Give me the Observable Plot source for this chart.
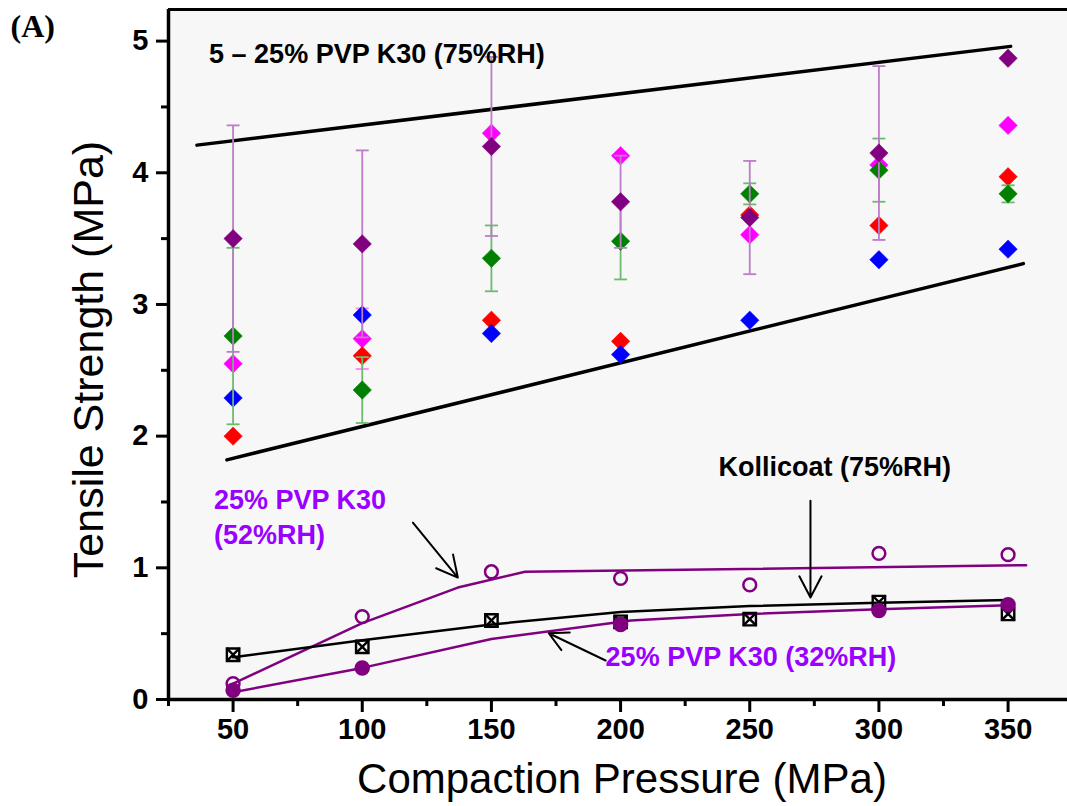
<!DOCTYPE html>
<html>
<head>
<meta charset="utf-8">
<script src="https://cdn.jsdelivr.net/npm/d3@7"></script>
<script src="https://cdn.jsdelivr.net/npm/@observablehq/plot@0.6"></script>
<style>
  body { margin: 0; background: #fff; }
  #chart svg { display: block; }
</style>
</head>
<body>
<div id="chart"></div>
<script>
// Compaction pressures (MPa)
const pressures = [50, 100, 150, 200, 250, 300, 350];

// Tensile strength of the PVP K30 blends at 75%RH (diamonds), one array per colour
const magentaTS = [2.55, 2.74, 4.30, 4.13, 3.53, 4.06, 4.36];
const magentaSD = [0, 0.23, 0, 0, 0, 0, 0];
const redTS     = [2.00, 2.61, 2.88, 2.72, 3.68, 3.60, 3.97];
const redSD     = [0, 0, 0, 0, 0, 0, 0];
const blueTS    = [2.29, 2.92, 2.78, 2.62, 2.88, 3.34, 3.42];
const blueSD    = [0, 0, 0, 0, 0, 0, 0];
const greenTS   = [2.76, 2.35, 3.35, 3.48, 3.84, 4.02, 3.84];
const greenSD   = [0.67, 0.25, 0.25, 0.29, 0.08, 0.24, 0.065];
const purpleTS  = [3.50, 3.46, 4.20, 3.78, 3.66, 4.15, 4.87];
const purpleSD  = [0.86, 0.71, 0.68, 0.35, 0.43, 0.66, 0];

// Envelope lines around the 75%RH data
const upperBoundP = [36, 351];
const upperBoundTS = [4.21, 4.96];
const lowerBoundP = [47.6, 355.9];
const lowerBoundTS = [1.82, 3.31];

// 25% PVP K30 at 52%RH (open circles) and its fitted curve
const rh52TS = [0.12, 0.63, 0.97, 0.92, 0.87, 1.11, 1.10];
const fit52P = [50, 100, 137, 163, 357];
const fit52TS = [0.12, 0.58, 0.85, 0.97, 1.02];

// 25% PVP K30 at 32%RH (filled circles) and its fitted curve
const rh32P = [50, 100, 200, 300, 350];
const rh32TS = [0.07, 0.24, 0.57, 0.675, 0.72];
const fit32P = [50, 100, 150, 204, 250, 300, 350];
const fit32TS = [0.055, 0.24, 0.46, 0.60, 0.65, 0.685, 0.715];

// Kollicoat at 75%RH (crossed squares) and its fitted curve
const kolliTS = [0.34, 0.40, 0.60, 0.59, 0.61, 0.74, 0.65];
const fitKolliP = [50, 100, 150, 200, 250, 300, 350];
const fitKolliTS = [0.32, 0.45, 0.57, 0.665, 0.71, 0.735, 0.755];

// Axis ticks
const xMajor = [50, 100, 150, 200, 250, 300, 350];
const xMinor = [25, 75, 125, 175, 225, 275, 325];
const yMajor = [0, 1, 2, 3, 4, 5];
const yMinor = [0.5, 1.5, 2.5, 3.5, 4.5];

// In-plot labels and pointer arrows (data coordinates)
const labelTexts = ["5 \u2013 25% PVP K30 (75%RH)", "Kollicoat (75%RH)", "25% PVP K30", "(52%RH)", "25% PVP K30 (32%RH)"];
const labelP  = [40.7, 237.9, 42.6, 42.6, 194.2];
const labelTS = [4.90, 1.76, 1.51, 1.245, 0.319];
const labelColors = ["black", "black", "#9900ff", "#9900ff", "#9900ff"];

const arrowFromP  = [119.6, 273.5, 194.2];
const arrowFromTS = [1.343, 1.51, 0.296];
const arrowToP    = [137.0, 273.5, 172.2];
const arrowToTS   = [0.926, 0.774, 0.503];

// ---- build tables ----
const diamondSeries = [
  {ts: magentaTS, sd: magentaSD, fill: "#ff00ff", bar: "#ff80ff"},
  {ts: redTS,     sd: redSD,     fill: "#ff0000", bar: "#ff8080"},
  {ts: blueTS,    sd: blueSD,    fill: "#0000ff", bar: "#8080ff"},
  {ts: greenTS,   sd: greenSD,   fill: "#008000", bar: "#6cbb6c"},
  {ts: purpleTS,  sd: purpleSD,  fill: "#800080", bar: "#bd7cc8"}
];
const zip = (xs, ys) => xs.map((x, i) => ({x, y: ys[i]}));
const labels = labelTexts.map((t, i) => ({text: t, x: labelP[i], y: labelTS[i], color: labelColors[i]}));
const arrows = arrowFromP.map((p, i) => ({x1: p, y1: arrowFromTS[i], x2: arrowToP[i], y2: arrowToTS[i]}));

// horizontal cap used at the ends of error bars
const capSymbol = {
  draw(ctx, size) {
    const r = Math.sqrt(size / Math.PI);
    ctx.moveTo(-r, 0);
    ctx.lineTo(r, 0);
  }
};

const diamondMarks = diamondSeries.flatMap(s => {
  const rows = pressures.map((p, i) => ({x: p, y: s.ts[i], e: s.sd[i]}));
  const withErr = rows.filter(d => d.e > 0);
  const caps = withErr.flatMap(d => [{x: d.x, y: d.y - d.e}, {x: d.x, y: d.y + d.e}]);
  return [
    Plot.ruleX(withErr, {x: "x", y1: d => d.y - d.e, y2: d => d.y + d.e, stroke: s.bar, strokeWidth: 1.8}),
    Plot.dot(caps, {x: "x", y: "y", symbol: capSymbol, r: 6.5, stroke: s.bar, strokeWidth: 1.8}),
    Plot.dot(rows, {x: "x", y: "y", symbol: "diamond2", r: 8.3, fill: s.fill, stroke: s.fill, strokeWidth: 0.5})
  ];
});

const font = "'Liberation Sans', Arial, Helvetica, sans-serif";

const chart = Plot.plot({
  width: 1067,
  height: 806,
  marginLeft: 168,
  marginTop: 9,
  marginRight: 0,
  marginBottom: 107,
  style: {fontFamily: font, background: "#ffffff", color: "black", overflow: "visible"},
  x: {domain: [25, 373]},
  y: {domain: [0, 5.24]},
  marks: [
    Plot.frame({fill: "#f7f7f7", stroke: null}),
    Plot.ruleY([5.24], {stroke: "black", strokeWidth: 3}),

    // envelope lines
    Plot.line(zip(upperBoundP, upperBoundTS), {x: "x", y: "y", stroke: "black", strokeWidth: 3.5}),
    Plot.line(zip(lowerBoundP, lowerBoundTS), {x: "x", y: "y", stroke: "black", strokeWidth: 3.5}),

    ...diamondMarks,

    // fitted curves
    Plot.line(zip(fit52P, fit52TS), {x: "x", y: "y", stroke: "#800080", strokeWidth: 2.5}),
    Plot.line(zip(fit32P, fit32TS), {x: "x", y: "y", stroke: "#800080", strokeWidth: 2.5}),
    Plot.line(zip(fitKolliP, fitKolliTS), {x: "x", y: "y", stroke: "black", strokeWidth: 2.5}),

    // low-strength series
    Plot.dot(zip(pressures, kolliTS), {x: "x", y: "y", symbol: "square", r: 7, stroke: "black", strokeWidth: 2.4}),
    Plot.dot(zip(pressures, kolliTS), {x: "x", y: "y", symbol: "times", r: 6, stroke: "black", strokeWidth: 2.4}),
    Plot.dot(zip(pressures, rh52TS), {x: "x", y: "y", r: 6.4, stroke: "#800080", strokeWidth: 2.5, fill: "none"}),
    Plot.dot(zip(rh32P, rh32TS), {x: "x", y: "y", r: 7, fill: "#800080", stroke: "#800080"}),

    // pointer arrows and labels
    Plot.arrow(arrows, {x1: "x1", y1: "y1", x2: "x2", y2: "y2", stroke: "black", strokeWidth: 2, headLength: 18, headAngle: 55}),
    Plot.text(labels, {x: "x", y: "y", text: "text", fill: "color", textAnchor: "start", lineAnchor: "middle", fontSize: 27, fontWeight: "bold"}),

    // axes
    Plot.axisX({ticks: xMajor, tickSize: 13, tickPadding: 6, strokeWidth: 3, fontSize: 29, fontWeight: "bold", label: null}),
    Plot.axisX({ticks: xMinor, tickSize: 7, strokeWidth: 3, tickFormat: () => "", label: null}),
    Plot.axisY({ticks: yMajor, tickSize: 12, tickPadding: 8, strokeWidth: 3, fontSize: 29, fontWeight: "bold", tickFormat: d => String(d), label: null}),
    Plot.axisY({ticks: yMinor, tickSize: 7, strokeWidth: 3, tickFormat: () => "", label: null}),
    Plot.ruleY([0], {stroke: "black", strokeWidth: 3.5}),
    Plot.ruleX([25], {stroke: "black", strokeWidth: 3.5}),

    // axis titles and panel letter
    Plot.text(["Compaction Pressure (MPa)"], {text: d => d, frameAnchor: "bottom", dx: 4, dy: 80, fontSize: 42, textAnchor: "middle", lineAnchor: "middle"}),
    Plot.text(["Tensile Strength (MPa)"], {text: d => d, frameAnchor: "left", dx: -79, dy: 5, rotate: -90, fontSize: 43, textAnchor: "middle", lineAnchor: "middle"}),
    Plot.text(["(A)"], {text: d => d, frameAnchor: "top-left", dx: -158, dy: 17, textAnchor: "start", lineAnchor: "middle", fontSize: 32, fontWeight: "bold", fontFamily: "'Liberation Serif', 'Times New Roman', serif"})
  ]
});

document.getElementById("chart").appendChild(chart);
</script>
</body>
</html>
